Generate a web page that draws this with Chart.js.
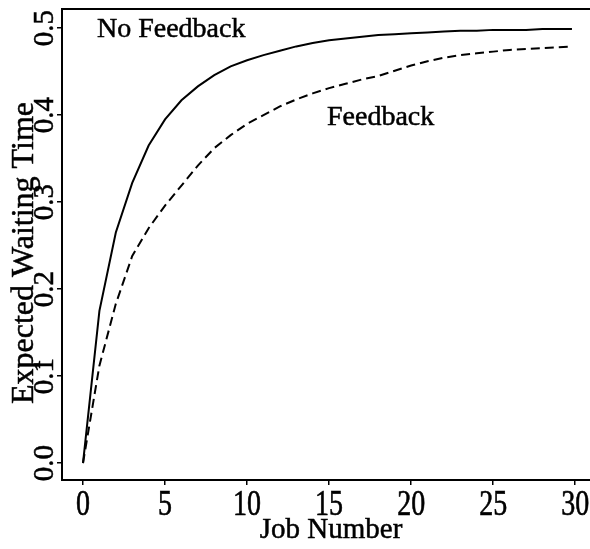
<!DOCTYPE html>
<html>
<head>
<meta charset="utf-8">
<script src="https://cdn.jsdelivr.net/npm/chart.js@4/dist/chart.umd.min.js"></script>
<style>
  html, body { margin: 0; padding: 0; background: #fff; }
  canvas { display: block; }
</style>
</head>
<body>
<canvas id="chart" width="590" height="549"></canvas>
<script>
// data
const jobNumber = [0, 1, 2, 3, 4, 5, 6, 7, 8, 9, 10, 11, 12, 13, 14, 15,
  16, 17, 18, 19, 20, 21, 22, 23, 24, 25, 26, 27, 28, 29, 29.8];
const noFeedback = [0, 0.175, 0.265, 0.322, 0.365, 0.395, 0.417, 0.433, 0.446, 0.456,
  0.463, 0.469, 0.474, 0.479, 0.483, 0.486, 0.488, 0.490, 0.492, 0.493,
  0.494, 0.495, 0.496, 0.497, 0.497, 0.498, 0.498, 0.498, 0.499, 0.499, 0.499];
const feedback = [0, 0.112, 0.183, 0.238, 0.27, 0.296, 0.319, 0.342, 0.362, 0.377,
  0.39, 0.4, 0.41, 0.418, 0.425, 0.431, 0.436, 0.441, 0.445, 0.451,
  0.457, 0.462, 0.466, 0.469, 0.471, 0.473, 0.475, 0.476, 0.477, 0.478, 0.479];
const xTicks = [0, 5, 10, 15, 20, 25, 30];
const yTicks = [0, 0.1, 0.2, 0.3, 0.4, 0.5];
const curveLabels = [
  { text: "No Feedback", x: 0.85, y: 0.49 },
  { text: "Feedback", x: 14.87, y: 0.389 }
];

const serif = "'Liberation Serif', 'Times New Roman', serif";

function points(ys) {
  return ys.map(function(v, i) { return { x: jobNumber[i], y: v }; });
}

// scanned text looks heavy, so fill and lightly stroke it
function inkText(ctx, s, x, y) {
  ctx.fillText(s, x, y);
  ctx.strokeText(s, x, y);
}

const textPlugin = {
  id: "textPlugin",
  afterDraw: function(chart) {
    let ctx = chart.ctx;
    let xs = chart.scales.x;
    let ys = chart.scales.y;
    let area = chart.chartArea;
    ctx.save();
    ctx.fillStyle = "#000";
    ctx.strokeStyle = "#000";

    // top frame line
    ctx.lineWidth = 2;
    ctx.beginPath();
    ctx.moveTo(area.left, area.top);
    ctx.lineTo(area.right, area.top);
    ctx.stroke();

    ctx.lineWidth = 0.5;

    // x tick labels
    ctx.font = "28px " + serif;
    ctx.textAlign = "center";
    ctx.textBaseline = "alphabetic";
    xTicks.forEach(function(v) {
      ctx.save();
      ctx.translate(xs.getPixelForValue(v), area.bottom + 35);
      ctx.scale(1, 1.25);
      inkText(ctx, String(v), 0, 0);
      ctx.restore();
    });

    // y tick labels, rotated
    ctx.font = "29px " + serif;
    yTicks.forEach(function(v) {
      ctx.save();
      ctx.translate(53, ys.getPixelForValue(v));
      ctx.rotate(-Math.PI / 2);
      inkText(ctx, v.toFixed(1), 0, 0);
      ctx.restore();
    });

    // axis titles
    ctx.font = "32px " + serif;
    ctx.save();
    ctx.translate(33, 253);
    ctx.rotate(-Math.PI / 2);
    inkText(ctx, "Expected Waiting Time", 0, 0);
    ctx.restore();
    ctx.font = "29px " + serif;
    inkText(ctx, "Job Number", 331, 538);

    // curve labels
    ctx.font = "28px " + serif;
    ctx.textAlign = "left";
    curveLabels.forEach(function(l) {
      inkText(ctx, l.text, xs.getPixelForValue(l.x), ys.getPixelForValue(l.y));
    });
    ctx.restore();
  }
};

let ctx = document.getElementById("chart").getContext("2d");
let chart = new Chart(ctx, {
  type: "line",
  data: {
    datasets: [{
      label: "No Feedback",
      data: points(noFeedback),
      borderColor: "#000",
      borderWidth: 2,
      pointRadius: 0,
      tension: 0,
      fill: false
    }, {
      label: "Feedback",
      data: points(feedback),
      borderColor: "#000",
      borderWidth: 2,
      borderDash: [9, 5],
      pointRadius: 0,
      tension: 0,
      fill: false
    }]
  },
  options: {
    responsive: false,
    animation: false,
    devicePixelRatio: 1,
    layout: { padding: { top: 9, left: 0, right: 0, bottom: 0 } },
    plugins: {
      legend: { display: false },
      tooltip: { enabled: false }
    },
    scales: {
      x: {
        type: "linear",
        min: -1.28,
        max: 30.9,
        afterBuildTicks: function(s) {
          s.ticks = xTicks.map(function(v) { return { value: v }; });
        },
        afterFit: function(s) { s.height = 69; },
        ticks: { display: false },
        grid: { display: true, drawOnChartArea: false, drawTicks: true, tickLength: 5, color: "#000", lineWidth: 1.5 },
        border: { display: true, color: "#000", width: 2 }
      },
      y: {
        type: "linear",
        min: -0.0195,
        max: 0.522,
        afterBuildTicks: function(s) {
          s.ticks = yTicks.map(function(v) { return { value: v }; });
        },
        afterFit: function(s) { s.width = 62; },
        ticks: { display: false },
        grid: { display: true, drawOnChartArea: false, drawTicks: true, tickLength: 5, color: "#000", lineWidth: 1.5 },
        border: { display: true, color: "#000", width: 2 }
      }
    }
  },
  plugins: [textPlugin]
});
</script>
</body>
</html>
